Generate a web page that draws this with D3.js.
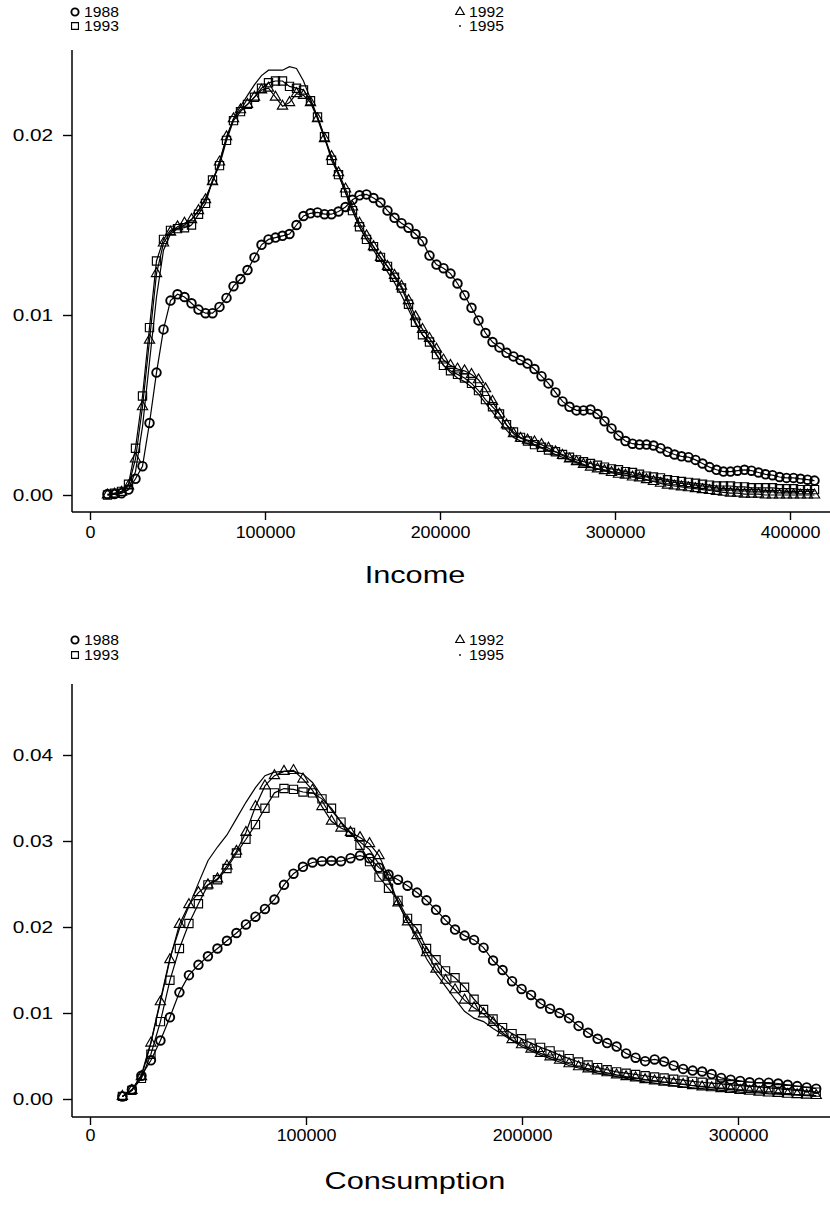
<!DOCTYPE html>
<html><head><meta charset="utf-8">
<script src="https://cdn.jsdelivr.net/npm/d3@7"></script>
<style>body{margin:0;background:#fff}svg{display:block;font-family:"Liberation Sans",Arial,sans-serif}</style>
</head><body>
<script>
// ---------- DATA ----------
const seriesNames = ["1988","1992","1993","1995"];
const incomeX = [10000,14000,18000,22000,26000,30000,34000,38000,42000,46000,50000,54000,58000,62000,66000,70000,74000,78000,82000,86000,90000,94000,98000,102000,106000,110000,114000,118000,122000,126000,130000,134000,138000,142000,146000,150000,154000,158000,162000,166000,170000,174000,178000,182000,186000,190000,194000,198000,202000,206000,210000,214000,218000,222000,226000,230000,234000,238000,242000,246000,250000,254000,258000,262000,266000,270000,274000,278000,282000,286000,290000,294000,298000,302000,306000,310000,314000,318000,322000,326000,330000,334000,338000,342000,346000,350000,354000,358000,362000,366000,370000,374000,378000,382000,386000,390000,394000,398000,402000,406000,410000,414000];
const income1988 = [0.00005,0.00005,0.0001,0.0003,0.0009,0.0016,0.004,0.0068,0.0092,0.0108,0.01115,0.011,0.01065,0.0103,0.0101,0.0101,0.01045,0.01095,0.0116,0.012,0.0125,0.0132,0.0139,0.0142,0.0143,0.0144,0.0145,0.015,0.0155,0.01565,0.0157,0.0156,0.0156,0.01575,0.016,0.0164,0.01665,0.0167,0.0165,0.01625,0.0158,0.0154,0.0151,0.01485,0.0145,0.0141,0.0133,0.0128,0.0126,0.0123,0.01175,0.0111,0.0104,0.0097,0.009,0.0085,0.0082,0.0079,0.0077,0.0075,0.0073,0.007,0.0066,0.0062,0.0057,0.0052,0.0049,0.0047,0.0047,0.00475,0.0045,0.0041,0.0037,0.0033,0.003,0.00285,0.0028,0.0028,0.00275,0.0026,0.0024,0.00225,0.00215,0.0021,0.00195,0.00175,0.00155,0.0014,0.0013,0.0013,0.00135,0.0014,0.00135,0.00125,0.00115,0.0011,0.001,0.00095,0.00095,0.0009,0.00085,0.0008];
const income1992 = [0,0.00005,0.00015,0.0005,0.002,0.0049,0.0086,0.0123,0.014,0.0146,0.0149,0.0151,0.0153,0.0158,0.0164,0.0174,0.0185,0.0199,0.0209,0.0214,0.0217,0.0221,0.0225,0.0226,0.0221,0.0216,0.0218,0.0223,0.0222,0.0218,0.0209,0.0198,0.0188,0.0179,0.017,0.016,0.0151,0.0144,0.0138,0.0132,0.0127,0.0122,0.0116,0.0108,0.0099,0.0092,0.0087,0.0081,0.0075,0.0072,0.007,0.0069,0.0067,0.0064,0.0059,0.0052,0.0045,0.0039,0.0034,0.00315,0.00305,0.00295,0.0028,0.0026,0.0024,0.0022,0.002,0.00185,0.0017,0.00155,0.00145,0.00135,0.00125,0.00115,0.0011,0.001,0.00095,0.00085,0.00075,0.00065,0.00055,0.0005,0.00045,0.0004,0.00035,0.0003,0.00025,0.0002,0.00015,0.0001,0.0001,0.00005,0.00005,0.00005,0,0,0,0,0,0,0,0];
const income1993 = [0,0.0001,0.0002,0.0006,0.0026,0.0055,0.0093,0.013,0.0142,0.0147,0.0148,0.01485,0.015,0.0156,0.0162,0.0175,0.0183,0.0197,0.0208,0.0213,0.0217,0.0221,0.0226,0.0229,0.023,0.023,0.0227,0.0226,0.0225,0.0219,0.021,0.0199,0.0186,0.0178,0.0168,0.0158,0.0149,0.0142,0.0138,0.0132,0.0127,0.0121,0.0115,0.0106,0.0096,0.0089,0.0085,0.0078,0.0072,0.0069,0.0067,0.0065,0.0062,0.0058,0.0053,0.0049,0.0045,0.0039,0.0035,0.0032,0.003,0.0028,0.00265,0.0025,0.0024,0.00225,0.0021,0.00195,0.00185,0.00175,0.00165,0.00155,0.00145,0.0014,0.0013,0.00125,0.00115,0.00105,0.001,0.00095,0.00085,0.0008,0.00075,0.0007,0.00065,0.0006,0.00055,0.0005,0.0005,0.0005,0.00045,0.00045,0.0004,0.0004,0.0004,0.0004,0.00035,0.00035,0.00035,0.0003,0.0003,0.0003];
const income1995 = [0,0.00005,0.0001,0.0003,0.0013,0.0038,0.0074,0.011,0.0136,0.0145,0.0148,0.015,0.0153,0.0158,0.0165,0.0174,0.0185,0.0198,0.0209,0.0216,0.0222,0.0228,0.0233,0.0236,0.0236,0.0236,0.0238,0.0237,0.023,0.022,0.021,0.0199,0.0188,0.0178,0.0168,0.0158,0.0149,0.0142,0.0136,0.013,0.0124,0.0118,0.0111,0.0103,0.0095,0.0089,0.0084,0.0078,0.0072,0.0068,0.0065,0.0063,0.006,0.0056,0.0051,0.0046,0.0041,0.0036,0.0032,0.003,0.00285,0.00275,0.0026,0.00245,0.00225,0.0021,0.00195,0.0018,0.00165,0.00155,0.00145,0.0014,0.0013,0.00125,0.0012,0.0011,0.00105,0.001,0.0009,0.00085,0.00075,0.0007,0.00065,0.0006,0.00055,0.0005,0.00045,0.0004,0.00035,0.00035,0.0003,0.0003,0.0003,0.0003,0.00025,0.00025,0.00025,0.0002,0.0002,0.0002,0.0002,0.0002];

const consX = [15000,19400,23800,28200,32600,37000,41400,45800,50200,54600,59000,63400,67800,72200,76600,81000,85400,89800,94200,98600,103000,107400,111800,116200,120600,125000,129400,133800,138200,142600,147000,151400,155800,160200,164600,169000,173400,177800,182200,186600,191000,195400,199800,204200,208600,213000,217400,221800,226200,230600,235000,239400,243800,248200,252600,257000,261400,265800,270200,274600,279000,283400,287800,292200,296600,301000,305400,309800,314200,318600,323000,327400,331800,336200];
const cons1988 = [0.0003,0.0011,0.0027,0.0045,0.0068,0.0095,0.0124,0.0144,0.0156,0.0166,0.0175,0.0184,0.0193,0.0203,0.0212,0.0221,0.0232,0.0249,0.0262,0.027,0.0275,0.02765,0.0277,0.02765,0.028,0.0283,0.028,0.0269,0.0261,0.0255,0.0248,0.024,0.0231,0.022,0.0208,0.0197,0.019,0.0185,0.0176,0.0161,0.015,0.0137,0.0128,0.0121,0.0111,0.0105,0.01,0.0094,0.0085,0.0077,0.007,0.0065,0.0061,0.0053,0.0048,0.0044,0.0046,0.00435,0.0039,0.0035,0.0033,0.0032,0.0029,0.00245,0.00225,0.0021,0.00195,0.0019,0.0019,0.0018,0.00165,0.0015,0.00135,0.0012];
const cons1992 = [0.0003,0.001,0.0026,0.0065,0.0113,0.0162,0.0203,0.0226,0.024,0.0249,0.0256,0.0271,0.0288,0.031,0.034,0.0364,0.0376,0.0381,0.0382,0.0372,0.0359,0.034,0.0323,0.0315,0.031,0.0304,0.0297,0.0283,0.0258,0.0228,0.0206,0.019,0.017,0.0151,0.0138,0.0127,0.0115,0.0106,0.0099,0.0089,0.0077,0.0069,0.0063,0.0058,0.0053,0.0049,0.0045,0.0041,0.00375,0.0035,0.00325,0.00305,0.0028,0.0026,0.00245,0.00225,0.0021,0.00195,0.00185,0.0017,0.00155,0.0014,0.0013,0.0012,0.0011,0.001,0.0009,0.0008,0.0007,0.00065,0.00055,0.0005,0.00045,0.0004];
const cons1993 = [0.0003,0.001,0.0024,0.0052,0.009,0.0138,0.0175,0.0204,0.0227,0.0249,0.0255,0.0268,0.0286,0.0302,0.0319,0.0338,0.0356,0.0361,0.036,0.0357,0.0356,0.0349,0.0338,0.0322,0.031,0.0295,0.0276,0.0258,0.0245,0.0231,0.021,0.0198,0.0175,0.0162,0.0149,0.0141,0.013,0.0116,0.0104,0.0093,0.0083,0.0076,0.007,0.0065,0.006,0.0056,0.0051,0.0047,0.0043,0.00395,0.00365,0.0034,0.00315,0.003,0.00285,0.0027,0.00255,0.00245,0.0023,0.0022,0.00205,0.00195,0.00185,0.00175,0.00165,0.00155,0.0015,0.0014,0.0013,0.0012,0.0011,0.001,0.0009,0.0008];
const cons1995 = [0.0003,0.001,0.0028,0.0066,0.0115,0.0164,0.0198,0.0224,0.0251,0.0277,0.0293,0.0307,0.0326,0.0345,0.0362,0.0376,0.038,0.0381,0.0381,0.0378,0.0368,0.0352,0.0336,0.0322,0.0309,0.0299,0.029,0.0273,0.0254,0.0228,0.0206,0.0186,0.0163,0.0146,0.0131,0.0116,0.0102,0.0094,0.009,0.0082,0.0075,0.0068,0.0061,0.0056,0.0051,0.0047,0.0043,0.0039,0.0036,0.0033,0.003,0.0028,0.0026,0.0024,0.0022,0.002,0.00185,0.0017,0.00155,0.0014,0.0013,0.0012,0.0011,0.001,0.0009,0.0008,0.00075,0.0007,0.0006,0.00055,0.0005,0.00045,0.0004,0.00035];

const incomeYTicks = [0,0.01,0.02];
const incomeXTicks = [0,100000,200000,300000,400000];
const consYTicks = [0,0.01,0.02,0.03,0.04];
const consXTicks = [0,100000,200000,300000];

// ---------- DRAW ----------
const W = 830, H = 1219;
const svg = d3.select("body").append("svg").attr("width", W).attr("height", H);

const markerOf = {"1988":"circle","1992":"triangle","1993":"square","1995":"none"};

function sym(g, type, x, y, scale) {
  scale = scale || 1;
  if (type === "circle") {
    g.append("path").attr("d", d3.symbol(d3.symbolCircle, 58*scale)()).attr("transform",`translate(${x},${y})`)
      .attr("fill","none").attr("stroke","#000").attr("stroke-width",1.9);
  } else if (type === "square") {
    g.append("path").attr("d", d3.symbol(d3.symbolSquare, 68*scale)()).attr("transform",`translate(${x},${y})`)
      .attr("fill","none").attr("stroke","#000").attr("stroke-width",1.15);
  } else if (type === "triangle") {
    g.append("path").attr("d", d3.symbol(d3.symbolTriangle, 46*scale)()).attr("transform",`translate(${x},${y})`)
      .attr("fill","none").attr("stroke","#000").attr("stroke-width",1.15);
  } else {
    g.append("circle").attr("cx",x).attr("cy",y).attr("r",0.9).attr("fill","#000");
  }
}

function stext(g, x, y, str, size, anchor, sx) {
  g.append("text").attr("transform",`translate(${x},${y}) scale(${sx},1)`)
    .attr("text-anchor",anchor).attr("font-size",size).attr("fill","#000").text(str);
}

function panel(cfg) {
  const g = svg.append("g");
  const x = d3.scaleLinear().domain(cfg.xDom).range(cfg.xRange);
  const y = d3.scaleLinear().domain(cfg.yDom).range(cfg.yRange);

  // legend
  const leg = svg.append("g");
  const legPos = [["1988",75,cfg.legY[0]],["1993",75,cfg.legY[1]],["1992",460,cfg.legY[0]],["1995",460,cfg.legY[1]]];
  legPos.forEach(([name,lx,ly]) => {
    sym(leg, markerOf[name], lx, ly, 0.7);
    stext(leg, lx + 9, ly + 5, name, 14, "start", 1.12);
  });

  // axes
  const axL = d3.axisLeft(y).tickValues(cfg.yTicks).tickFormat(d3.format(".2f")).tickSize(9).tickPadding(5.5);
  const gy = g.append("g").attr("transform",`translate(72,0)`).call(axL);
  const axB = d3.axisBottom(x).tickValues(cfg.xTicks).tickFormat(d3.format("d")).tickSize(8).tickPadding(cfg.xPad);
  const gx = g.append("g").attr("transform",`translate(0,${cfg.axisBottom})`).call(axB);
  [[gy,1.3],[gx,1.12]].forEach(([a,sx]) => {
    a.select(".domain").remove();
    a.selectAll(".tick line").attr("stroke","#000").attr("stroke-width",1.4);
    a.selectAll(".tick text").attr("font-size",16).attr("fill","#000")
      .attr("font-family",'"Liberation Sans",Arial,sans-serif').attr("transform",`scale(${sx},1)`);
  });
  g.append("line").attr("x1",72).attr("x2",72).attr("y1",cfg.axisTop).attr("y2",cfg.axisBottom)
    .attr("stroke","#000").attr("stroke-width",1.5);
  g.append("line").attr("x1",72).attr("x2",W).attr("y1",cfg.axisBottom).attr("y2",cfg.axisBottom)
    .attr("stroke","#000").attr("stroke-width",1.5);

  // title
  stext(g, cfg.titleX, cfg.titleY, cfg.title, 24, "middle", 1.28);

  // series
  const line = d3.line().x(d => x(d[0])).y(d => y(d[1]));
  cfg.series.forEach(s => {
    const pts = cfg.xs.map((xv,i) => [xv, s.values[i]]).filter(d => d[1] !== undefined);
    g.append("path").attr("d", line(pts)).attr("fill","none").attr("stroke","#000").attr("stroke-width",1.2);
    if (markerOf[s.name] !== "none") {
      const mg = g.append("g");
      pts.forEach(d => sym(mg, markerOf[s.name], x(d[0]), y(d[1])));
    }
  });
}

panel({
  xs: incomeX,
  series: [{name:"1995",values:income1995},{name:"1992",values:income1992},{name:"1993",values:income1993},{name:"1988",values:income1988}],
  xDom:[0,400000], xRange:[90,790], yDom:[0,0.02], yRange:[495,135],
  yTicks: incomeYTicks, xTicks: incomeXTicks, xPad: 7,
  axisTop: 50, axisBottom: 512, title: "Income", titleX: 415, titleY: 583, legY: [12,26]
});

panel({
  xs: consX,
  series: [{name:"1995",values:cons1995},{name:"1992",values:cons1992},{name:"1993",values:cons1993},{name:"1988",values:cons1988}],
  xDom:[0,300000], xRange:[90,738], yDom:[0,0.04], yRange:[1099,755],
  yTicks: consYTicks, xTicks: consXTicks, xPad: 5,
  axisTop: 684, axisBottom: 1117, title: "Consumption", titleX: 415, titleY: 1189, legY: [640,655]
});
</script>
</body></html>
